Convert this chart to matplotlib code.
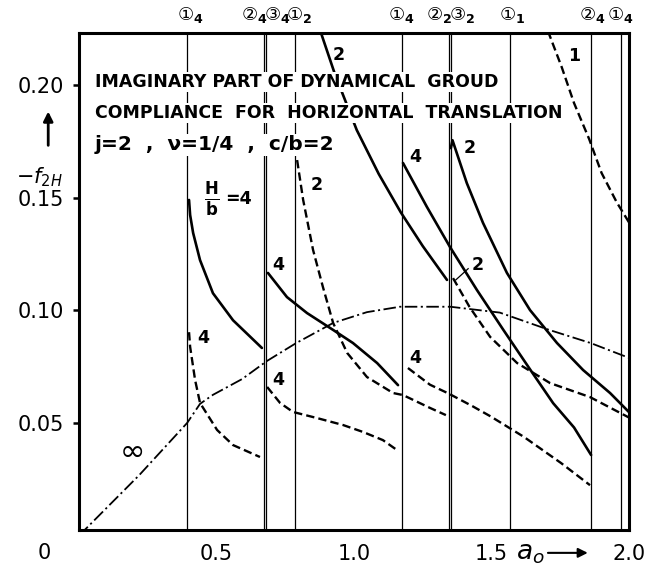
import numpy as np
import matplotlib.pyplot as plt
import matplotlib.transforms as mtransforms

plt.rcParams['lines.scale_dashes'] = False
plt.rcParams['font.family'] = 'DejaVu Sans'

# vertical resonance lines (a0)
v_lines = [0.393, 0.672, 0.679, 0.785, 1.173, 1.345, 1.352, 1.567, 1.862, 1.969]

# labels above the frame : circled number + subscript
top_circ = ['①', '②', '③', '①', '①', '②', '③', '①', '②', '①']
top_sub = ['4', '4', '4', '2', '4', '2', '2', '1', '4', '4']
top_x = [0.405, 0.638, 0.719, 0.80, 1.173, 1.31, 1.394, 1.574, 1.868, 1.967]

# H/b = infinity (dash-dot)
inf_q = [0.0, 0.22, 0.393, 0.44, 0.487, 0.593, 0.683, 0.79, 0.924, 1.047, 1.167, 1.35, 1.53, 1.71, 1.86, 2.0]
inf_f = [0.0, 0.027, 0.05, 0.0585, 0.0625, 0.0695, 0.0775, 0.0855, 0.0944, 0.0992, 0.1016, 0.1016, 0.099, 0.0913, 0.0855, 0.0789]

# H/b = 4, first branch
a_q = [0.400, 0.404, 0.415, 0.44, 0.487, 0.56, 0.665]
a_f = [0.149, 0.1423, 0.1343, 0.1223, 0.1076, 0.0956, 0.0833]
b_q = [0.400, 0.404, 0.422, 0.44, 0.502, 0.56, 0.658]
b_f = [0.0903, 0.0838, 0.0691, 0.0589, 0.0469, 0.0402, 0.0349]

# H/b = 4, second branch
c_q = [0.687, 0.756, 0.829, 0.924, 0.996, 1.084, 1.16]
c_f = [0.1166, 0.1059, 0.0988, 0.0913, 0.0855, 0.0766, 0.0668]
d_q = [0.684, 0.731, 0.778, 0.865, 0.96, 1.033, 1.105, 1.156]
d_f = [0.066, 0.0589, 0.0549, 0.0522, 0.0491, 0.046, 0.0424, 0.038]

# H/b = 2 dashed from 1_2
e_q = [0.793, 0.815, 0.851, 0.887, 0.924, 0.975, 1.047, 1.142, 1.178, 1.276, 1.334]
e_f = [0.1667, 0.149, 0.1268, 0.1103, 0.0944, 0.0811, 0.0704, 0.0633, 0.0624, 0.0567, 0.0535]

# H/b = 4, third branch
f_q = [1.196, 1.276, 1.345, 1.43, 1.497, 1.618, 1.753, 1.858]
f_f = [0.0744, 0.067, 0.063, 0.0575, 0.0529, 0.0438, 0.0322, 0.0224]
g_q = [1.178, 1.265, 1.349, 1.447, 1.542, 1.64, 1.724, 1.80, 1.862]
g_f = [0.1654, 0.1459, 0.1281, 0.109, 0.0915, 0.0738, 0.0588, 0.048, 0.0358]

# H/b = 2
h_q = [1.352, 1.358, 1.41, 1.469, 1.556, 1.64, 1.738, 1.833, 1.931, 2.0]
h_f = [0.172, 0.1755, 0.1565, 0.1388, 0.1166, 0.1001, 0.0855, 0.0735, 0.0633, 0.0548]
i_q = [0.86, 0.88, 0.93, 1.01, 1.09, 1.17, 1.25, 1.338]
i_f = [0.232, 0.2231, 0.205, 0.18, 0.1605, 0.1435, 0.1285, 0.1135]
j_q = [1.36, 1.42, 1.495, 1.593, 1.713, 1.858, 2.0]
j_f = [0.1143, 0.1015, 0.0882, 0.0766, 0.0677, 0.0615, 0.0524]

# H/b = 1
k_q = [1.705, 1.755, 1.80, 1.855, 1.90, 1.955, 2.0]
k_f = [0.224, 0.208, 0.192, 0.176, 0.161, 0.148, 0.139]

# curve labels
lbl_txt = ['2', '1', '4', '4', '4', '2', '4', '4', '2', '2']
lbl_q = [0.945, 1.80, 0.451, 0.724, 0.724, 0.865, 1.222, 1.222, 1.42, 1.451]
lbl_f = [0.2133, 0.213, 0.0877, 0.1202, 0.0689, 0.1556, 0.0789, 0.1681, 0.1721, 0.1201]

fig = plt.figure(figsize=(6.52, 5.71), dpi=100)
ax = fig.add_axes([0.1212, 0.0718, 0.8436, 0.8704])

for q in v_lines:
    ax.axvline(q, color='k', lw=0.9, zorder=1)

dash = (0, (6, 3))
dashdot = (0, (9, 2.5, 1.5, 2.5))
ax.plot(inf_q, inf_f, color='k', lw=1.3, ls=dashdot, zorder=2)
for qq, ff in [(a_q, a_f), (c_q, c_f), (g_q, g_f), (h_q, h_f), (i_q, i_f)]:
    ax.plot(qq, ff, color='k', lw=1.9, solid_capstyle='round', zorder=2)
for qq, ff in [(b_q, b_f), (d_q, d_f), (e_q, e_f), (f_q, f_f), (j_q, j_f), (k_q, k_f)]:
    ax.plot(qq, ff, color='k', lw=1.7, ls=dash, zorder=2)

# leader for the dashed "2"
ax.plot([1.37, 1.415], [0.1135, 0.1185], color='k', lw=0.9)

for t, q, f in zip(lbl_txt, lbl_q, lbl_f):
    ax.text(q, f, t, fontsize=12.5, fontweight='bold', ha='center', va='center')

ax.text(0.484, 0.149, r'$\frac{\mathbf{H}}{\mathbf{b}}$', fontsize=17, ha='center', va='center')
ax.text(0.578, 0.1495, '=4', fontsize=12.5, fontweight='bold', ha='center', va='center')
ax.text(0.196, 0.037, '∞', fontsize=22, ha='center', va='center')

# title block, white boxes hide the vertical lines behind the text
box = dict(facecolor='white', edgecolor='none', pad=1)
ax.text(0.058, 0.2014, 'IMAGINARY PART OF DYNAMICAL  GROUD', fontsize=12.5,
        fontweight='bold', va='center', bbox=box, zorder=5)
ax.text(0.058, 0.1876, 'COMPLIANCE  FOR  HORIZONTAL  TRANSLATION', fontsize=12.5,
        fontweight='bold', va='center', bbox=box, zorder=5)
ax.text(0.058, 0.1734, 'j=2  ,  ν=1/4  ,  c/b=2', fontsize=14.5, fontweight='bold',
        va='center', bbox=box, zorder=5)

# labels above the frame, one mathtext string each (circle with subscript)
tr = mtransforms.blended_transform_factory(ax.transData, ax.transAxes)
for c, s, q in zip(top_circ, top_sub, top_x):
    ax.text(q, 1.036, r'$\mathregular{%s_{\mathbf{%s}}}$' % (c, s), transform=tr,
            fontsize=13, ha='center', va='center', clip_on=False)

ax.set_xlim(0, 2.0)
ax.set_ylim(0.0025, 0.2231)
ax.set_yticks([0.05, 0.10, 0.15, 0.20])
ax.set_yticklabels(['0.05', '0.10', '0.15', '0.20'])
ax.set_xticks([0.5, 1.0, 1.5, 2.0])
ax.set_xticklabels(['0.5', '1.0', '1.5', '2.0'])
ax.tick_params(axis='y', direction='out', length=4, width=1.8, pad=7, labelsize=15)
ax.tick_params(axis='x', length=0, pad=10, labelsize=15)
for sp in ax.spines.values():
    sp.set_linewidth(2.2)

ax.text(-0.127, -0.046, '0', transform=tr, fontsize=15, ha='center', va='center', clip_on=False)

# axis names with arrows
tr_y = mtransforms.blended_transform_factory(ax.transAxes, ax.transData)
ax.annotate('', xy=(-0.056, 0.1895), xycoords=tr_y, xytext=(-0.056, 0.172), textcoords=tr_y,
            arrowprops=dict(arrowstyle='-|>', color='k', lw=2, mutation_scale=14),
            annotation_clip=False)
ax.text(-0.072, 0.1592, r'$-f_{2H}$', transform=tr_y, fontsize=15, ha='center', va='center')

ax.text(1.64, -0.046, r'$a_o$', transform=tr, fontsize=19, ha='center', va='center', clip_on=False)
ax.annotate('', xy=(1.86, -0.046), xycoords=tr, xytext=(1.695, -0.046), textcoords=tr,
            arrowprops=dict(arrowstyle='-|>', color='k', lw=1.5, mutation_scale=14),
            annotation_clip=False)

fig.savefig('out.png', dpi=100)
